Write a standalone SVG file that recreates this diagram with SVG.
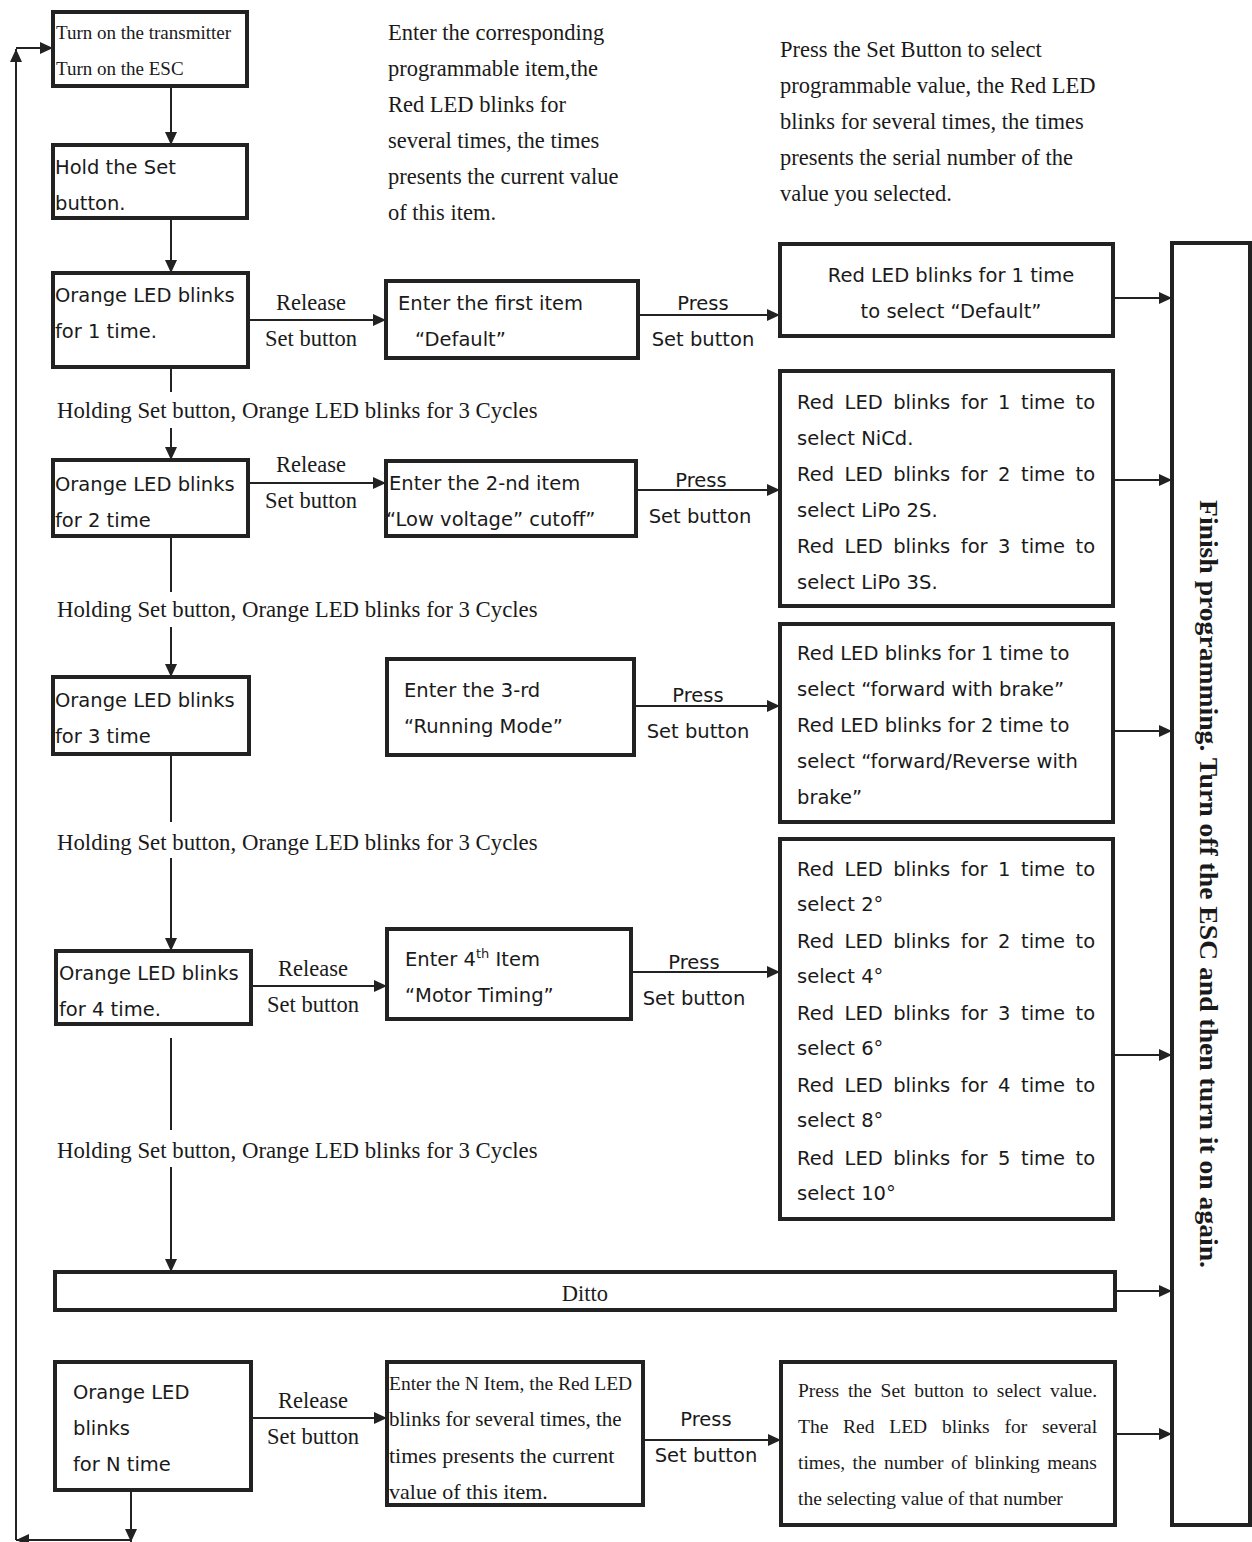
<svg xmlns="http://www.w3.org/2000/svg" width="1252" height="1542" viewBox="0 0 1252 1542">
<style>
.box{fill:#fff;stroke:#222;stroke-width:4}
.c{fill:none;stroke:#222;stroke-width:2}
.a{marker-end:url(#ah)}
.s{font-family:"DejaVu Sans",Verdana,sans-serif;font-size:19.5px;fill:#1a1a1a}
.t{font-family:"Liberation Serif","Times New Roman",serif;font-size:22.5px;fill:#1a1a1a}
.h{font-size:22.8px}
.t2{font-family:"Liberation Serif","Times New Roman",serif;font-size:19.5px;fill:#1a1a1a}
.m{text-anchor:middle}
.j{word-spacing:4.3px}
</style>
<defs>
<marker id="ah" markerUnits="userSpaceOnUse" markerWidth="14" markerHeight="14" refX="13" refY="6" orient="auto"><path d="M0,0 L13,6 L0,12 z" fill="#222"/></marker>
</defs>
<rect width="1252" height="1542" fill="#fff"/>

<g id="connectors">
<path class="c a" d="M171,86 V145"/>
<path class="c a" d="M171,218 V273"/>
<path class="c a" d="M248,320 H386"/>
<path class="c a" d="M638,315 H780"/>
<path class="c a" d="M1113,298 H1172"/>
<path class="c" d="M171,367 V392"/>
<path class="c a" d="M171,428 V460"/>
<path class="c a" d="M248,483 H386"/>
<path class="c a" d="M636,490 H780"/>
<path class="c a" d="M1113,480 H1172"/>
<path class="c" d="M171,536 V592"/>
<path class="c a" d="M171,627 V677"/>
<path class="c a" d="M634,706 H780"/>
<path class="c a" d="M1113,731 H1172"/>
<path class="c" d="M171,754 V822"/>
<path class="c a" d="M171,858 V951"/>
<path class="c a" d="M251,986 H387"/>
<path class="c a" d="M631,972 H780"/>
<path class="c a" d="M1113,1055 H1172"/>
<path class="c" d="M171,1038 V1130"/>
<path class="c a" d="M171,1167 V1272"/>
<path class="c a" d="M1115,1291 H1172"/>
<path class="c a" d="M251,1418 H387"/>
<path class="c a" d="M643,1440 H781"/>
<path class="c a" d="M1115,1434 H1172"/>
<path class="c a" d="M131,1490 V1542"/>
<path class="c a" d="M131,1540 H16"/>
<path class="c a" d="M16,1540 V49"/>
<path class="c a" d="M16,48 H53"/>
</g>

<g id="labels">
<text class="t" x="388" y="40">Enter the corresponding</text>
<text class="t" x="388" y="76">programmable item,the</text>
<text class="t" x="388" y="112">Red LED blinks for</text>
<text class="t" x="388" y="148">several times, the times</text>
<text class="t" x="388" y="184">presents the current value</text>
<text class="t" x="388" y="220">of this item.</text>
<text class="t" x="780" y="57">Press the Set Button to select</text>
<text class="t" x="780" y="93">programmable value, the Red LED</text>
<text class="t" x="780" y="129">blinks for several times, the times</text>
<text class="t" x="780" y="165">presents the serial number of the</text>
<text class="t" x="780" y="201">value you selected.</text>

<text class="t m" x="311" y="310">Release</text>
<text class="t m" x="311" y="346">Set button</text>
<text class="s m" x="703" y="310">Press</text>
<text class="s m" x="703" y="346">Set button</text>

<text class="t h" x="57" y="418">Holding Set button, Orange LED blinks for 3 Cycles</text>

<text class="t m" x="311" y="472">Release</text>
<text class="t m" x="311" y="508">Set button</text>
<text class="s m" x="701" y="487">Press</text>
<text class="s m" x="700" y="523">Set button</text>

<text class="t h" x="57" y="617">Holding Set button, Orange LED blinks for 3 Cycles</text>

<text class="s m" x="698" y="702">Press</text>
<text class="s m" x="698" y="738">Set button</text>

<text class="t h" x="57" y="850">Holding Set button, Orange LED blinks for 3 Cycles</text>

<text class="t m" x="313" y="976">Release</text>
<text class="t m" x="313" y="1012">Set button</text>
<text class="s m" x="694" y="969">Press</text>
<text class="s m" x="694" y="1005">Set button</text>

<text class="t h" x="57" y="1158">Holding Set button, Orange LED blinks for 3 Cycles</text>

<text class="t m" x="313" y="1408">Release</text>
<text class="t m" x="313" y="1444">Set button</text>
<text class="s m" x="706" y="1426">Press</text>
<text class="s m" x="706" y="1462">Set button</text>
</g>

<g id="n-start">
<rect class="box" x="53" y="12" width="194" height="74"/>
<text class="t" x="56" y="39" style="font-size:19px">Turn on the transmitter</text>
<text class="t" x="56" y="75" style="font-size:19px">Turn on the ESC</text>
</g>
<g id="n-hold">
<rect class="box" x="53" y="145" width="194" height="73"/>
<text class="s" x="55" y="174">Hold the Set</text>
<text class="s" x="55" y="210">button.</text>
</g>
<g id="n-orange1">
<rect class="box" x="53" y="273" width="195" height="94"/>
<text class="s" x="55" y="302">Orange LED blinks</text>
<text class="s" x="55" y="338">for 1 time.</text>
</g>
<g id="n-item1">
<rect class="box" x="386" y="281" width="252" height="77"/>
<text class="s" x="398" y="310">Enter the first item</text>
<text class="s" x="415" y="346">“Default”</text>
</g>
<g id="n-value1">
<rect class="box" x="780" y="244" width="333" height="92"/>
<text class="s m" x="951" y="282">Red LED blinks for 1 time</text>
<text class="s m" x="951" y="318">to select “Default”</text>
</g>
<g id="n-orange2">
<rect class="box" x="53" y="460" width="195" height="76"/>
<text class="s" x="55" y="491">Orange LED blinks</text>
<text class="s" x="55" y="527">for 2 time</text>
</g>
<g id="n-item2">
<rect class="box" x="386" y="461" width="250" height="75"/>
<text class="s" x="389" y="490">Enter the 2-nd item</text>
<text class="s" x="386" y="526">“Low voltage” cutoff”</text>
</g>
<g id="n-value2">
<rect class="box" x="780" y="371" width="333" height="235"/>
<text class="s j" x="797" y="409">Red LED blinks for 1 time to</text>
<text class="s" x="797" y="445">select NiCd.</text>
<text class="s j" x="797" y="481">Red LED blinks for 2 time to</text>
<text class="s" x="797" y="517">select LiPo 2S.</text>
<text class="s j" x="797" y="553">Red LED blinks for 3 time to</text>
<text class="s" x="797" y="589">select LiPo 3S.</text>
</g>
<g id="n-orange3">
<rect class="box" x="53" y="677" width="196" height="77"/>
<text class="s" x="55" y="707">Orange LED blinks</text>
<text class="s" x="55" y="743">for 3 time</text>
</g>
<g id="n-item3">
<rect class="box" x="387" y="659" width="247" height="96"/>
<text class="s" x="404" y="697">Enter the 3-rd</text>
<text class="s" x="404" y="733">“Running Mode”</text>
</g>
<g id="n-value3">
<rect class="box" x="780" y="624" width="333" height="198"/>
<text class="s" x="797" y="660">Red LED blinks for 1 time to</text>
<text class="s" x="797" y="696">select “forward with brake”</text>
<text class="s" x="797" y="732">Red LED blinks for 2 time to</text>
<text class="s" x="797" y="768">select “forward/Reverse with</text>
<text class="s" x="797" y="804">brake”</text>
</g>
<g id="n-orange4">
<rect class="box" x="56" y="951" width="195" height="73"/>
<text class="s" x="59" y="980">Orange LED blinks</text>
<text class="s" x="59" y="1016">for 4 time.</text>
</g>
<g id="n-item4">
<rect class="box" x="387" y="929" width="244" height="90"/>
<text class="s" x="405" y="966">Enter 4<tspan font-size="13" dy="-8">th</tspan><tspan dy="8"> Item</tspan></text>
<text class="s" x="405" y="1002">“Motor Timing”</text>
</g>
<g id="n-value4">
<rect class="box" x="780" y="839" width="333" height="380"/>
<text class="s j" x="797" y="876">Red LED blinks for 1 time to</text>
<text class="s" x="797" y="911">select 2°</text>
<text class="s j" x="797" y="948">Red LED blinks for 2 time to</text>
<text class="s" x="797" y="983">select 4°</text>
<text class="s j" x="797" y="1020">Red LED blinks for 3 time to</text>
<text class="s" x="797" y="1055">select 6°</text>
<text class="s j" x="797" y="1092">Red LED blinks for 4 time to</text>
<text class="s" x="797" y="1127">select 8°</text>
<text class="s j" x="797" y="1165">Red LED blinks for 5 time to</text>
<text class="s" x="797" y="1200">select 10°</text>
</g>
<g id="n-ditto">
<rect class="box" x="55" y="1272" width="1060" height="38"/>
<text class="t m" x="585" y="1301">Ditto</text>
</g>
<g id="n-orangeN">
<rect class="box" x="55" y="1362" width="196" height="128"/>
<text class="s" x="73" y="1399">Orange LED</text>
<text class="s" x="73" y="1435">blinks</text>
<text class="s" x="73" y="1471">for N time</text>
</g>
<g id="n-itemN">
<rect class="box" x="387" y="1362" width="256" height="143"/>
<text class="t2" x="389" y="1390">Enter the N Item, the Red LED</text>
<text class="t2" x="389" y="1426" style="font-size:21px">blinks for several times, the</text>
<text class="t2" x="389" y="1463" style="font-size:22px">times presents the current</text>
<text class="t2" x="389" y="1499" style="font-size:22px">value of this item.</text>
</g>
<g id="n-valueN">
<rect class="box" x="781" y="1362" width="334" height="163"/>
<text class="t2" x="798" y="1397" style="word-spacing:3.9px">Press the Set button to select value.</text>
<text class="t2" x="798" y="1433" style="word-spacing:9.9px">The Red LED blinks for several</text>
<text class="t2" x="798" y="1469" style="word-spacing:2.6px">times, the number of blinking means</text>
<text class="t2" x="798" y="1505">the selecting value of that number</text>
</g>
<g id="n-finish">
<rect class="box" x="1172" y="243" width="78" height="1282"/>
<text transform="translate(1200,500) rotate(90)" style="font-family:'Liberation Serif','Times New Roman',serif;font-size:26px;font-weight:bold;fill:#1a1a1a" textLength="768" lengthAdjust="spacingAndGlyphs">Finish programming. Turn off the ESC and then turn it on again.</text>
</g>
</svg>
